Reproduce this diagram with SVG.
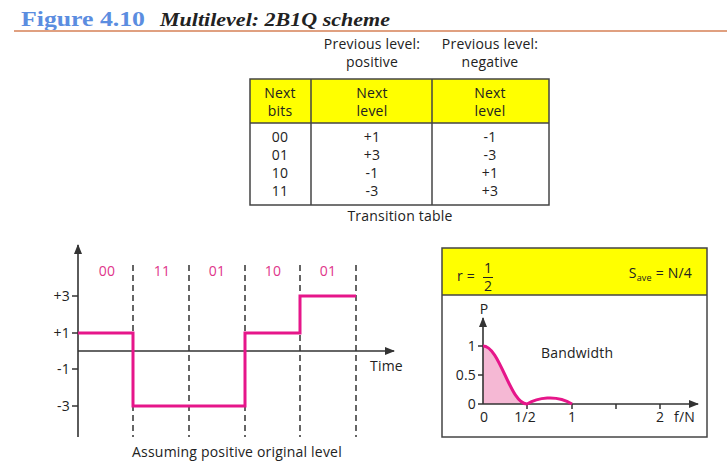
<svg xmlns="http://www.w3.org/2000/svg" width="727" height="465" viewBox="0 0 727 465">
<style>
.t{font-family:"Open Sans","Noto Sans","Liberation Sans",sans-serif;font-size:14px;letter-spacing:0.2px;fill:#222}
.c{text-anchor:middle}
.r{text-anchor:end}
.pk{fill:#e0358a}
.box{fill:none;stroke:#444;stroke-width:1.5}
.ax{stroke:#333;stroke-width:1.6;fill:none}
.dash{stroke:#333;stroke-width:1.5;stroke-dasharray:6,4}
.sig{stroke:#e6168a;stroke-width:3;fill:none}
</style>
<defs>
<marker id="ar" markerWidth="10" markerHeight="8" refX="9" refY="4" orient="auto" markerUnits="userSpaceOnUse">
<path d="M0,0 L10,4 L0,8 Z" fill="#333"/>
</marker>
</defs>
<rect width="727" height="465" fill="#fff"/>
<g id="title">
<text x="21" y="26" font-family="Liberation Serif,serif" font-weight="bold" font-size="22" fill="#5b8de0" textLength="124" lengthAdjust="spacingAndGlyphs">Figure 4.10</text>
<text x="160" y="26" font-family="Liberation Serif,serif" font-weight="bold" font-style="italic" font-size="18" fill="#222" textLength="230" lengthAdjust="spacingAndGlyphs">Multilevel: 2B1Q scheme</text>
<line x1="14" y1="31" x2="727" y2="31" stroke="#e0a080" stroke-width="2"/>
</g>
<g id="table">
<text class="t c" x="372" y="49">Previous level:</text>
<text class="t c" x="372" y="67">positive</text>
<text class="t c" x="490" y="49">Previous level:</text>
<text class="t c" x="490" y="67">negative</text>
<rect x="250" y="79" width="299" height="44" fill="#ffff00"/>
<rect x="250" y="79" width="299" height="126" class="box"/>
<line x1="250" y1="123" x2="549" y2="123" stroke="#444" stroke-width="1.5"/>
<line x1="311" y1="79" x2="311" y2="205" stroke="#444" stroke-width="1.5"/>
<line x1="432" y1="79" x2="432" y2="205" stroke="#444" stroke-width="1.5"/>
<text class="t c" x="280" y="98">Next</text>
<text class="t c" x="280" y="116">bits</text>
<text class="t c" x="372" y="98">Next</text>
<text class="t c" x="372" y="116">level</text>
<text class="t c" x="490" y="98">Next</text>
<text class="t c" x="490" y="116">level</text>
<text class="t c" x="280" y="142">00</text>
<text class="t c" x="280" y="160">01</text>
<text class="t c" x="280" y="178">10</text>
<text class="t c" x="280" y="196">11</text>
<text class="t c" x="372" y="142">+1</text>
<text class="t c" x="372" y="160">+3</text>
<text class="t c" x="372" y="178">-1</text>
<text class="t c" x="372" y="196">-3</text>
<text class="t c" x="490" y="142">-1</text>
<text class="t c" x="490" y="160">-3</text>
<text class="t c" x="490" y="178">+1</text>
<text class="t c" x="490" y="196">+3</text>
<text class="t c" x="400" y="221">Transition table</text>
</g>
<g id="signal-plot">
<line class="ax" x1="78" y1="437" x2="78" y2="245" marker-end="url(#ar)"/>
<line class="ax" x1="78" y1="351" x2="394" y2="351" marker-end="url(#ar)"/>
<g stroke="#333" stroke-width="1.5">
<line x1="72" y1="296" x2="78" y2="296"/>
<line x1="72" y1="333" x2="78" y2="333"/>
<line x1="72" y1="369" x2="78" y2="369"/>
<line x1="72" y1="406" x2="78" y2="406"/>
</g>
<text class="t r" x="70" y="301" font-size="15">+3</text>
<text class="t r" x="70" y="338" font-size="15">+1</text>
<text class="t r" x="70" y="374" font-size="15">-1</text>
<text class="t r" x="70" y="411" font-size="15">-3</text>
<line class="dash" x1="133" y1="265" x2="133" y2="437"/>
<line class="dash" x1="189" y1="265" x2="189" y2="437"/>
<line class="dash" x1="245" y1="265" x2="245" y2="437"/>
<line class="dash" x1="300" y1="265" x2="300" y2="437"/>
<line class="dash" x1="356" y1="265" x2="356" y2="437"/>
<text class="t c pk" x="107" y="276">00</text>
<text class="t c pk" x="162" y="276">11</text>
<text class="t c pk" x="217" y="276">01</text>
<text class="t c pk" x="273" y="276">10</text>
<text class="t c pk" x="328" y="276">01</text>
<path class="sig" d="M78,333 H133 V406 H245 V333 H300 V296 H356"/>
<text class="t" x="370" y="371">Time</text>
<text class="t c" x="237" y="457">Assuming positive original level</text>
</g>
<g id="bandwidth-panel">
<rect x="442" y="248" width="265" height="47" fill="#ffff00"/>
<rect x="442" y="248" width="265" height="189" class="box"/>
<line x1="442" y1="295" x2="707" y2="295" stroke="#444" stroke-width="1.5"/>
<text class="t" x="457" y="281" font-size="12">r =</text>
<text class="t c" x="488" y="273" font-size="11">1</text>
<line x1="483" y1="277.5" x2="493" y2="277.5" stroke="#222" stroke-width="1"/>
<text class="t c" x="488" y="291" font-size="11">2</text>
<text class="t r" x="692" y="278" font-size="13">S<tspan font-size="9" dy="3">ave</tspan><tspan dy="-3"> = N/4</tspan></text>
<path d="M483,346 C500,346 510,404 527,404 L483,404 Z" fill="#f5b8d4" stroke="none"/>
<line class="ax" x1="483" y1="404" x2="483" y2="318" marker-end="url(#ar)"/>
<line class="ax" x1="483" y1="404" x2="698" y2="404" marker-end="url(#ar)"/>
<g stroke="#333" stroke-width="1.5">
<line x1="478" y1="346" x2="483" y2="346"/>
<line x1="478" y1="375" x2="483" y2="375"/>
<line x1="478" y1="404" x2="483" y2="404"/>
<line x1="527" y1="404" x2="527" y2="409"/>
<line x1="572" y1="404" x2="572" y2="409"/>
<line x1="616" y1="404" x2="616" y2="409"/>
<line x1="660" y1="404" x2="660" y2="409"/>
</g>
<path class="sig" stroke-width="2.5" d="M483,346 C500,346 510,404 527,404 C537,398 556,394 572,404"/>
<text class="t c" x="484" y="314">P</text>
<text class="t r" x="476" y="351">1</text>
<text class="t r" x="476" y="380">0.5</text>
<text class="t r" x="476" y="409">0</text>
<text class="t c" x="484" y="422">0</text>
<text class="t c" x="525" y="422">1/2</text>
<text class="t c" x="572" y="422">1</text>
<text class="t c" x="660" y="422">2</text>
<text class="t" x="674" y="422">f/N</text>
<text class="t" x="541" y="358">Bandwidth</text>
</g>
</svg>
